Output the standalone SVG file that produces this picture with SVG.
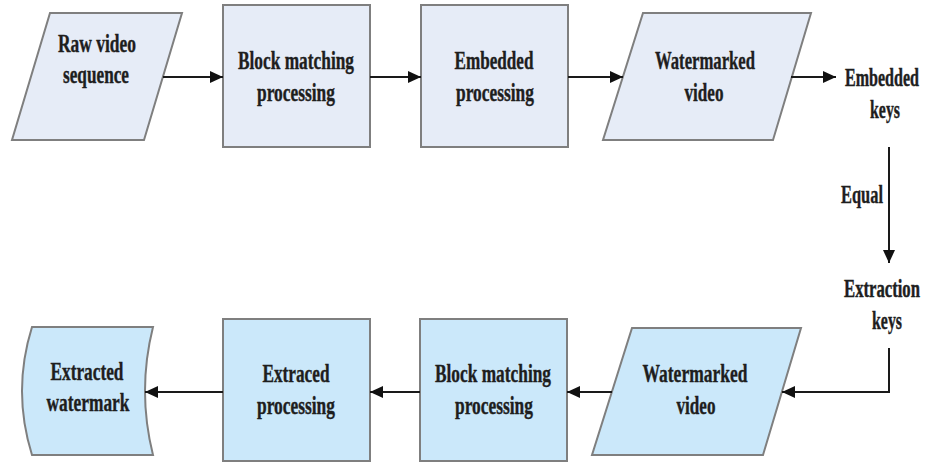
<svg xmlns="http://www.w3.org/2000/svg" width="927" height="463" viewBox="0 0 927 463">
  <style>
    .top { fill: #e6ecf7; stroke: #7f7f7f; stroke-width: 2; }
    .bot { fill: #cbe8fa; stroke: #7f7f7f; stroke-width: 2; }
    .lbl { font-family: "Liberation Serif", "Times New Roman", "DejaVu Serif", serif; font-weight: 700; font-size: 26px; fill: #1e1e1e; stroke: #1e1e1e; stroke-width: 0.4; text-anchor: middle; }
    .tall { font-size: 16.5px; stroke-width: 0.3; }
    .edge { fill: none; stroke: #1a1a1a; stroke-width: 2; }
  </style>
  <defs>
    <marker id="arrow" markerUnits="userSpaceOnUse" markerWidth="14" markerHeight="12" refX="13" refY="6" orient="auto">
      <path d="M0,0 L13,6 L0,12 Z" fill="#111"/>
    </marker>
  </defs>

  <rect width="927" height="463" fill="#ffffff"/>

  <!-- embedding row -->
  <g id="raw-video">
    <polygon class="top" points="50,13 182,13 144,140 12,140"/>
    <text class="lbl" x="97" y="52" textLength="78" lengthAdjust="spacingAndGlyphs">Raw video</text>
    <text class="lbl" x="96" y="83" textLength="66" lengthAdjust="spacingAndGlyphs">sequence</text>
  </g>
  <g id="block-matching-embed">
    <rect class="top" x="223" y="5" width="147" height="142"/>
    <text class="lbl" x="296" y="69" textLength="116" lengthAdjust="spacingAndGlyphs">Block matching</text>
    <text class="lbl" x="296" y="101" textLength="78" lengthAdjust="spacingAndGlyphs">processing</text>
  </g>
  <g id="embedded-processing">
    <rect class="top" x="421" y="5" width="147" height="142"/>
    <text class="lbl" x="494" y="69" textLength="79" lengthAdjust="spacingAndGlyphs">Embedded</text>
    <text class="lbl" x="495" y="101" textLength="78" lengthAdjust="spacingAndGlyphs">processing</text>
  </g>
  <g id="watermarked-video-out">
    <polygon class="top" points="643,13 811,13 773,140 603,140"/>
    <text class="lbl" x="705" y="69" textLength="100" lengthAdjust="spacingAndGlyphs">Watermarked</text>
    <text class="lbl" x="704" y="101" textLength="39" lengthAdjust="spacingAndGlyphs">video</text>
  </g>
  <g id="embedded-keys">
    <!-- narrow labels near the right edge: small size stretched vertically -->
    <text class="lbl tall" transform="translate(882,86) scale(1,1.57)" x="0" y="0" textLength="74" lengthAdjust="spacingAndGlyphs">Embedded</text>
    <text class="lbl" x="885" y="118" textLength="30" lengthAdjust="spacingAndGlyphs">keys</text>
  </g>
  <g id="extraction-keys">
    <text class="lbl tall" transform="translate(882,297) scale(1,1.57)" x="0" y="0" textLength="76" lengthAdjust="spacingAndGlyphs">Extraction</text>
    <text class="lbl" x="887" y="329" textLength="30" lengthAdjust="spacingAndGlyphs">keys</text>
  </g>

  <!-- extraction row -->
  <g id="watermarked-video-in">
    <polygon class="bot" points="632,328 801,328 763,455 592,455"/>
    <text class="lbl" x="695" y="382" textLength="105" lengthAdjust="spacingAndGlyphs">Watermarked</text>
    <text class="lbl" x="696" y="414" textLength="39" lengthAdjust="spacingAndGlyphs">video</text>
  </g>
  <g id="block-matching-extract">
    <rect class="bot" x="420" y="319" width="147" height="142"/>
    <text class="lbl" x="493" y="382" textLength="116" lengthAdjust="spacingAndGlyphs">Block matching</text>
    <text class="lbl" x="494" y="414" textLength="78" lengthAdjust="spacingAndGlyphs">processing</text>
  </g>
  <g id="extraced-processing">
    <rect class="bot" x="223" y="319" width="147" height="142"/>
    <text class="lbl" x="296" y="382" textLength="67" lengthAdjust="spacingAndGlyphs">Extraced</text>
    <text class="lbl" x="296" y="414" textLength="78" lengthAdjust="spacingAndGlyphs">processing</text>
  </g>
  <g id="extracted-watermark">
    <path class="bot" d="M32,327 L153,327 Q137,391 153,455 L32,455 Q12,391 32,327 Z"/>
    <text class="lbl" x="87" y="380" textLength="73" lengthAdjust="spacingAndGlyphs">Extracted</text>
    <text class="lbl" x="88" y="411" textLength="83" lengthAdjust="spacingAndGlyphs">watermark</text>
  </g>

  <!-- connectors -->
  <g id="connectors">
    <line class="edge" x1="163" y1="77" x2="223" y2="77" marker-end="url(#arrow)"/>
    <line class="edge" x1="370" y1="77" x2="421" y2="77" marker-end="url(#arrow)"/>
    <line class="edge" x1="568" y1="77" x2="623" y2="77" marker-end="url(#arrow)"/>
    <line class="edge" x1="791" y1="77" x2="836" y2="77" marker-end="url(#arrow)"/>
    <line class="edge" x1="889" y1="147" x2="889" y2="263" marker-end="url(#arrow)"/>
    <text class="lbl" x="862" y="203" textLength="42" lengthAdjust="spacingAndGlyphs">Equal</text>
    <polyline class="edge" points="889,348 889,392 782,392" marker-end="url(#arrow)"/>
    <line class="edge" x1="612" y1="392" x2="567" y2="392" marker-end="url(#arrow)"/>
    <line class="edge" x1="420" y1="392" x2="370" y2="392" marker-end="url(#arrow)"/>
    <line class="edge" x1="223" y1="392" x2="145" y2="392" marker-end="url(#arrow)"/>
  </g>
</svg>
